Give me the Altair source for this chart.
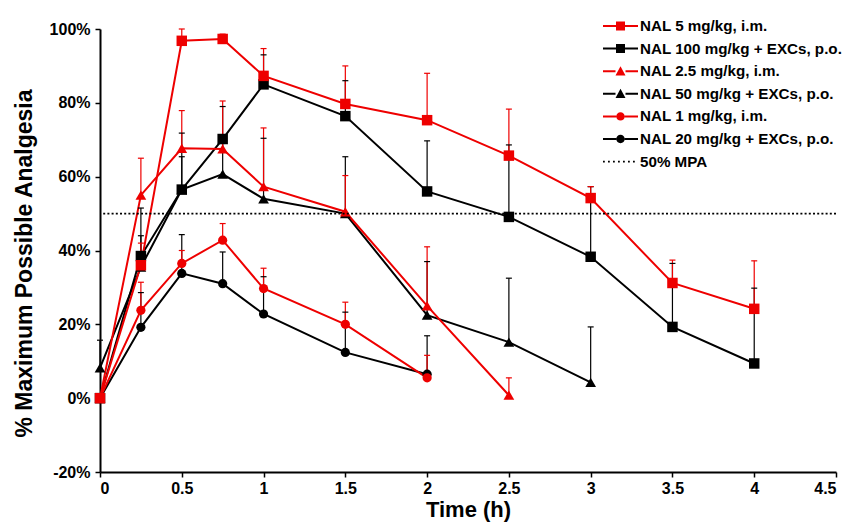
import altair as alt
import pandas as pd

# ---- data ----
times = [0, 0.25, 0.5, 0.75, 1, 1.5, 2, 2.5, 3, 3.5, 4]

series_names = [
    "NAL 5 mg/kg, i.m.",
    "NAL 100 mg/kg + EXCs, p.o.",
    "NAL 2.5 mg/kg, i.m.",
    "NAL 50 mg/kg + EXCs, p.o.",
    "NAL 1 mg/kg, i.m.",
    "NAL 20 mg/kg + EXCs, p.o.",
]
mpa_name = "50% MPA"
mpa_level = [50]

nal5_im = [0, 36, 96.8, 97.3, 87.3, 79.7, 75.3, 65.7, 54.2, 31.2, 24.2]
nal5_im_top = [None, 42, 100, 98.6, 94.7, 90, 88, 78.3, 57.3, 37.4, 37.2]

nal100_po = [0, 38.5, 56.5, 70.2, 85, 76.4, 56, 49.1, 38.3, 19.3, 9.4]
nal100_po_top = [None, 51.5, 71.8, 79, 93, 86, 69.7, 68.6, 57.3, 36.5, 29.8]

nal25_im = [0, 55, 67.7, 67.5, 57.3, 50.5, 25, 0.8]
nal25_im_top = [None, 65, 77.9, 80.5, 73.2, 60.3, 41, 5.5]

nal50_po = [8.2, 35.5, 56.5, 60.7, 54, 50, 22.5, 15.2, 4.3]
nal50_po_top = [15.7, 44, 65.4, 69, 70.4, 65.4, 37, 32.5, 19.3]

nal1_im = [0, 23.8, 36.5, 42.8, 29.7, 20, 5.5]
nal1_im_top = [None, 31.4, 40, 47.3, 35.2, 26, 11.6]

nal20_po = [0, 19.2, 33.8, 31, 22.8, 12.4, 6.5]
nal20_po_top = [None, 28.6, 44.3, 39.6, 32.9, 23.3, 16.9]

series_values = [nal5_im, nal100_po, nal25_im, nal50_po, nal1_im, nal20_po]
series_tops = [nal5_im_top, nal100_po_top, nal25_im_top, nal50_po_top, nal1_im_top, nal20_po_top]

RED = "#ee0000"
BLACK = "#000000"
series_colors = [RED, BLACK, RED, BLACK, RED, BLACK]
series_shapes = ["square", "square", "triangle-up", "triangle-up", "circle", "circle"]
series_sizes = [110, 110, 115, 115, 85, 85]

# legend glyphs: line + marker (unit = 10 px)
def seg(a, b):
    return f"M{a},-0.1H{b}V0.1H{a}Z"

cx = -0.75
sq = f"M{cx-0.45},-0.45H{cx+0.45}V0.45H{cx-0.45}Z"
tri = f"M{cx},-0.5L{cx+0.5},0.42L{cx-0.5},0.42Z"
circ = f"M{cx-0.42},0A0.42,0.42 0 1,1 {cx+0.42},0A0.42,0.42 0 1,1 {cx-0.42},0Z"
line_sq = seg(-2.5, cx - 0.45) + seg(cx + 0.45, 1.0) + sq
line_tri = seg(-2.5, cx - 0.5) + seg(cx + 0.5, 1.0) + tri
line_circ = seg(-2.5, cx - 0.42) + seg(cx + 0.42, 1.0) + circ
dots = "".join(f"M{-2.5 + i*0.5},-0.09h0.18v0.18h-0.18Z" for i in range(7))
legend_shapes = [line_sq, line_sq, line_tri, line_tri, line_circ, line_circ, dots]

rows = []
order = [1, 3, 5, 0, 2, 4]  # draw black first, red on top
for i in order:
    for t, v, tp in zip(times, series_values[i], series_tops[i]):
        rows.append({"series": series_names[i], "time": t, "value": v,
                     "top": tp, "size": series_sizes[i]})
df = pd.DataFrame(rows)

dom = series_names
col_scale = alt.Scale(domain=dom, range=series_colors)
shape_scale = alt.Scale(domain=dom, range=series_shapes)

x_enc = alt.X("time:Q", scale=alt.Scale(domain=[0, 4.5], nice=False),
              axis=alt.Axis(values=[0, 0.5, 1, 1.5, 2, 2.5, 3, 3.5, 4, 4.5], format="~g",
                            title="Time (h)", titlePadding=3, labelPadding=3,
                            titleFontSize=22))
y_enc = alt.Y("value:Q", scale=alt.Scale(domain=[-20, 100], nice=False),
              axis=alt.Axis(values=list(range(-20, 101, 10)),
                            labelExpr="datum.value % 20 == 0 ? datum.value + '%' : ''",
                            title="% Maximum Possible Analgesia", titlePadding=13,
                            titleFontSize=23, titleY=234, labelPadding=5))

base = alt.Chart(df)

lines = base.mark_line(strokeWidth=2, opacity=1).encode(
    x=x_enc, y=y_enc,
    color=alt.Color("series:N", scale=col_scale, legend=None),
    detail="series:N",
)

err = base.transform_filter("isValid(datum.top)")
err_rule = err.mark_rule(strokeWidth=1.2).encode(
    x="time:Q", y="value:Q", y2="top:Q",
    color=alt.Color("series:N", scale=col_scale, legend=None),
)
err_cap = err.mark_tick(thickness=1.2, size=6, orient="horizontal", opacity=1).encode(
    x="time:Q", y="top:Q",
    color=alt.Color("series:N", scale=col_scale, legend=None),
)

points = base.mark_point(filled=True, opacity=1).encode(
    x="time:Q", y="value:Q",
    color=alt.Color("series:N", scale=col_scale, legend=None),
    shape=alt.Shape("series:N", scale=shape_scale, legend=None),
    size=alt.Size("size:Q", scale=None, legend=None),
)

mpa = alt.Chart(pd.DataFrame({"level": mpa_level})).mark_rule(
    color="black", strokeWidth=1.6, strokeDash=[2, 2.2]
).encode(y="level:Q")

legend_props = dict(title=None, orient="none", legendX=518, legendY=-13,
                    symbolSize=400, symbolStrokeWidth=0, rowPadding=3.6,
                    labelOffset=2, padding=0, labelLimit=400)

legend_layer = base.transform_filter("false").mark_point(filled=True, opacity=1).encode(
    x="time:Q", y="value:Q",
    color=alt.Color("series:N",
                    scale=alt.Scale(domain=dom + [mpa_name], range=series_colors + [BLACK]),
                    legend=alt.Legend(**legend_props)),
    shape=alt.Shape("series:N",
                    scale=alt.Scale(domain=dom + [mpa_name], range=legend_shapes),
                    legend=alt.Legend(**legend_props)),
)

FONT = "Liberation Sans"
chart = alt.layer(lines, err_rule, err_cap, points, mpa, legend_layer).resolve_scale(
    color="independent", shape="independent"
).properties(
    width=736, height=443,
    autosize=alt.AutoSizeParams(type="none"),
    padding={"left": 100, "top": 29, "right": 14, "bottom": 54},
    background="white",
).configure_view(stroke=None).configure_axis(
    grid=False, domainColor="black", domainWidth=2, tickColor="black", tickWidth=1.5,
    tickSize=5, labelFont=FONT, labelFontSize=16, labelFontWeight="bold", labelColor="black",
    titleFont=FONT, titleFontWeight="bold", titleColor="black",
).configure_legend(
    labelFont=FONT, labelFontSize=15.2, labelFontWeight="bold", labelColor="black",
)

chart.save("out.html", embed_options={"renderer": "svg", "actions": False})
